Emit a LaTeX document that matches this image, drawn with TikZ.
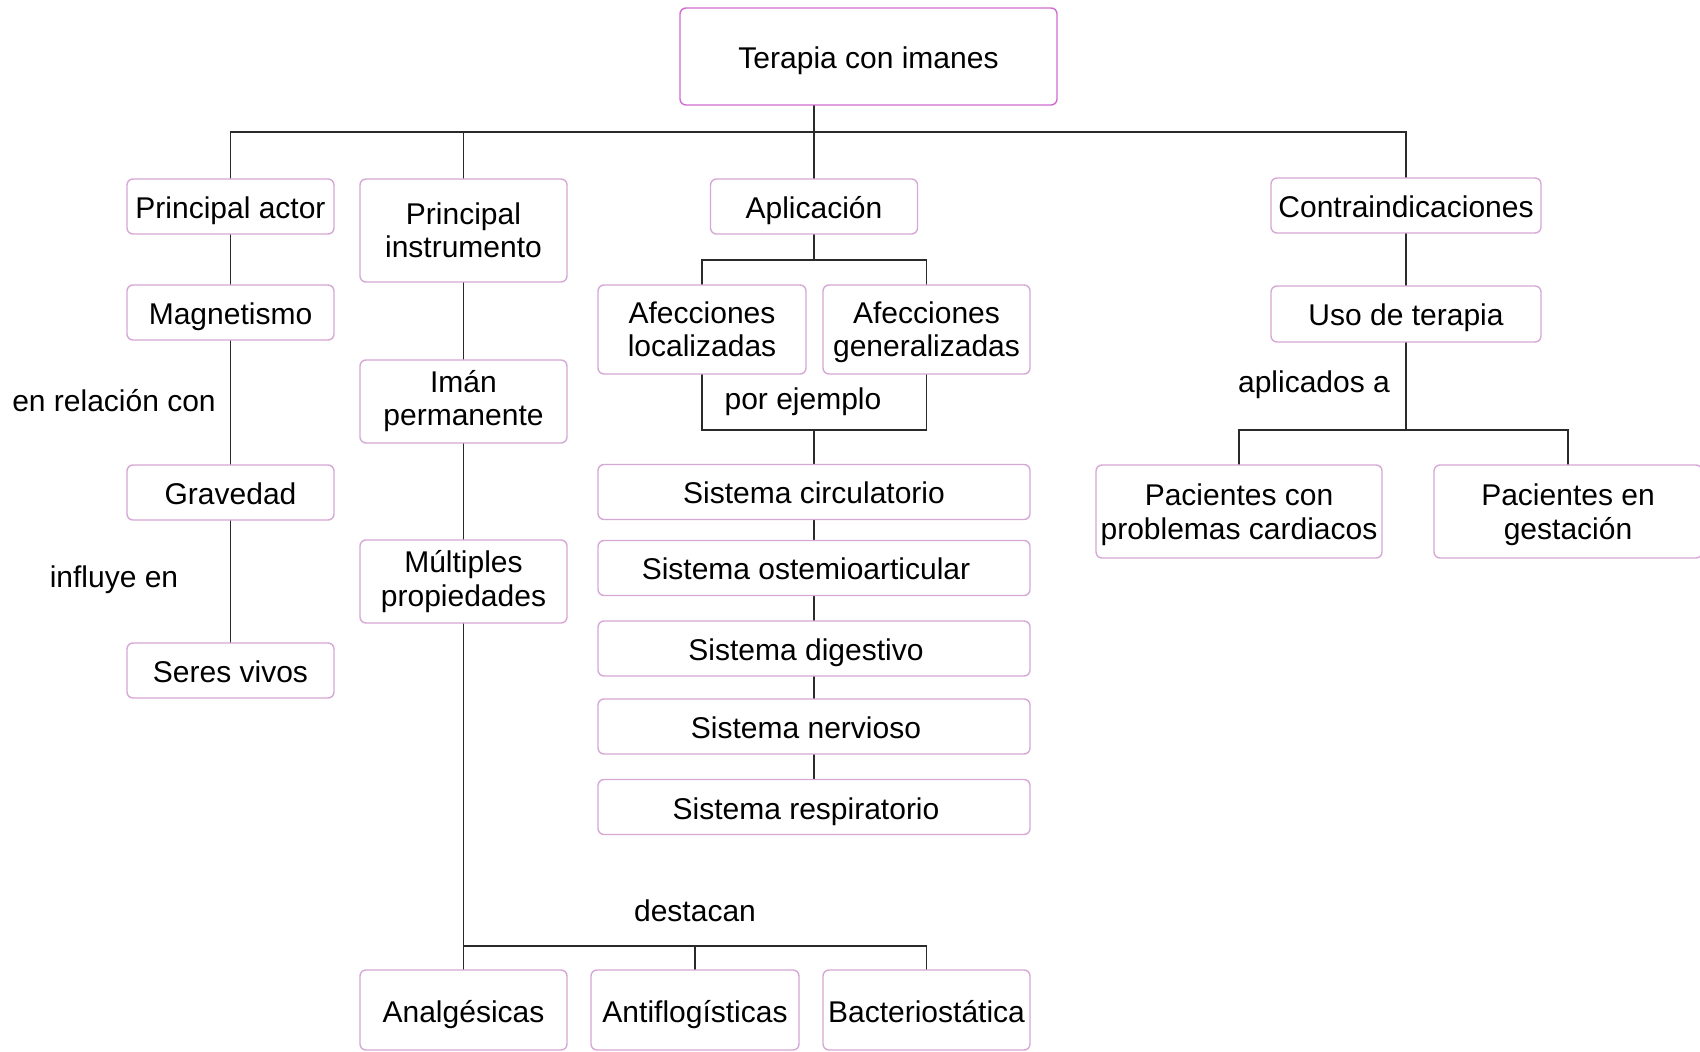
\documentclass[tikz,border=0pt]{standalone}
\usepackage{fontspec}
\setmainfont{Liberation Sans}
\usepackage{tikz}
\usetikzlibrary{backgrounds}

\definecolor{boxpink}{HTML}{D6A8D6}
\definecolor{toppink}{HTML}{D06CD0}
\definecolor{linegray}{HTML}{2A2A2A}

\newcommand{\topstrut}{\rule{0pt}{15.5pt}}
\newcommand{\botstrut}{\rule[-3.5pt]{0pt}{3.5pt}}

\tikzset{
  concept/.style={rectangle, rounded corners=3pt, draw=boxpink, line width=0.7pt,
                  fill=white, align=center, inner sep=0pt, outer sep=0pt,
                  font=\fontsize{15}{16.8}\selectfont,
                  execute at begin node=\topstrut,
                  execute at end node=\botstrut},
  onerow/.style={minimum width=103.5pt, minimum height=27.5pt},
  tworow/.style={minimum width=103.5pt, minimum height=41.5pt,
                 text height=28pt, text depth=3.5pt},
  sysrow/.style={minimum width=216pt, minimum height=27.5pt},
  offleft/.style={execute at end node={\kern8pt}},
  twoline/.style={text height=31pt, text depth=3.5pt},
  linkword/.style={align=center, inner sep=0pt,
                   font=\fontsize{15}{16.5}\selectfont},
  link/.style={draw=linegray, line width=0.9pt}
}

\begin{document}
\begin{tikzpicture}[x=0.5pt, y=-0.5pt]
\useasboundingbox (0,0) rectangle (1700,1052);

\node[concept, draw=toppink, minimum width=188.5pt, minimum height=48.5pt]
    (terapia) at (868.5,56.5) {Terapia con imanes};

% first row
\node[concept, onerow] (actor) at (230.5,206.5) {Principal actor};
\node[concept, twoline, minimum width=103.5pt, minimum height=51.5pt]
    (instr) at (463.5,230.5) {Principal\\instrumento};
\node[concept, onerow] (aplic) at (814,206.5) {Aplicación};
\node[concept, minimum width=135pt, minimum height=27.5pt]
    (contra) at (1406,205.5) {Contraindicaciones};

% left column
\node[concept, onerow] (magnet) at (230.5,312.5) {Magnetismo};
\node[concept, onerow] (grav) at (230.5,492.5) {Gravedad};
\node[concept, onerow] (seres) at (230.5,670.5) {Seres vivos};
\node[linkword] (enrel) at (114,401) {en relación con};
\node[linkword] (influye) at (114,580) {influye en};

% instrumento
\node[concept, tworow] (iman) at (463.5,401.5) {Imán\\permanente};
\node[concept, tworow] (mult) at (463.5,581.5) {Múltiples\\propiedades};
\node[linkword] (destacan) at (695,911) {destacan};
\node[concept, minimum width=103.5pt, minimum height=40pt]
    (analg) at (463.5,1010) {Analgésicas};
\node[concept, minimum width=104pt, minimum height=40pt]
    (antifl) at (695,1010) {Antiflogísticas};
\node[concept, minimum width=103.5pt, minimum height=40pt]
    (bact) at (926.5,1010) {Bacteriostática};

% aplicacion
\node[concept, twoline, minimum width=104pt, minimum height=44.5pt]
    (afloc) at (702,329.5) {Afecciones\\localizadas};
\node[concept, twoline, minimum width=103.5pt, minimum height=44.5pt]
    (afgen) at (926.5,329.5) {Afecciones\\generalizadas};
\node[linkword] (porej) at (803,402) {por ejemplo};
\node[concept, sysrow] (circ) at (814,492) {Sistema circulatorio};
\node[concept, sysrow, offleft] (osteo) at (814,568) {Sistema ostemioarticular};
\node[concept, sysrow, offleft] (dig) at (814,648.5) {Sistema digestivo};
\node[concept, sysrow, offleft] (nerv) at (814,726.5) {Sistema nervioso};
\node[concept, sysrow, offleft] (resp) at (814,807) {Sistema respiratorio};

% contraindicaciones
\node[concept, minimum width=135pt, minimum height=28pt]
    (uso) at (1406,314) {Uso de terapia};
\node[linkword] (aplicados) at (1314,385) {aplicados a};
\node[concept, twoline, minimum width=143pt, minimum height=46.5pt]
    (paccard) at (1239,511.5) {Pacientes con\\problemas cardiacos};
\node[concept, twoline, minimum width=134pt, minimum height=46.5pt]
    (pacgest) at (1568,511.5) {Pacientes en\\gestación};

\coordinate (topbus) at (814,132);
\coordinate (apbus) at (814,260);
\coordinate (ejbus) at (814,430);
\coordinate (usobus) at (1406,430);
\coordinate (propbus) at (695,946);

\begin{scope}[on background layer]
    \draw[link] (topbus |- terapia.south) -- (topbus);
    \draw[link] (actor.north) |- (topbus) -| (contra.north);
    \draw[link] (instr.north) -- (instr.north |- topbus);
    \draw[link] (aplic.north) -- (topbus);
        %%%
    \draw[link] (actor) -- (magnet) -- (grav) -- (seres);
        %%%
    \draw[link] (instr) -- (iman) -- (mult) -- (mult |- propbus);
    \draw[link] (analg.north) |- (propbus) -| (bact.north);
    \draw[link] (antifl.north) -- (propbus);
        %%%
    \draw[link] (aplic) -- (apbus);
    \draw[link] (afloc.center |- apbus) rectangle (afgen.center |- ejbus);
    \draw[link] (ejbus) -- (circ) -- (osteo) -- (dig) -- (nerv) -- (resp);
        %%%
    \draw[link] (contra) -- (uso) -- (usobus);
    \draw[link] (paccard.north) |- (usobus) -| (pacgest.north);
\end{scope}
\end{tikzpicture}
\end{document}
